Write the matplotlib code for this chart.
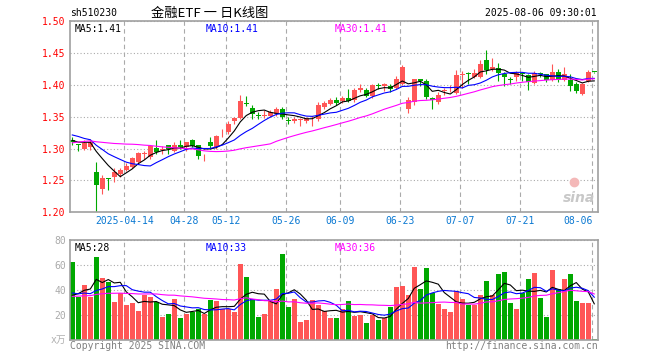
import matplotlib
matplotlib.use("Agg")
import matplotlib.pyplot as plt
import numpy as np
import pandas as pd

RED = "#ff5656"
GREEN = "#00a800"
GRID = "#aaaaaa"
MONO = ["DejaVu Sans Mono", "Noto Sans CJK SC"]

# daily k-line, 2025-03-31 .. 2025-08-06
opens = [1.314, 1.307, 1.300, 1.303, 1.263, 1.237, 1.254, 1.256, 1.260, 1.267,
         1.271, 1.279, 1.292, 1.287, 1.301, 1.298, 1.306, 1.297, 1.306, 1.302,
         1.313, 1.305, 1.291, 1.310, 1.302, 1.327, 1.326, 1.343, 1.348, 1.371,
         1.364, 1.352, 1.352, 1.352, 1.354, 1.362, 1.345, 1.343, 1.345, 1.344,
         1.349, 1.347, 1.365, 1.370, 1.377, 1.375, 1.380, 1.376, 1.392, 1.392,
         1.383, 1.400, 1.399, 1.399, 1.396, 1.402, 1.362, 1.373, 1.409, 1.407,
         1.380, 1.373, 1.391, 1.393, 1.388, 1.415, 1.419, 1.413, 1.412, 1.440,
         1.425, 1.427, 1.417, 1.409, 1.413, 1.418, 1.415, 1.403, 1.418, 1.417,
         1.408, 1.421, 1.408, 1.408, 1.402, 1.386, 1.407, 1.421]
highs = [1.318, 1.308, 1.313, 1.315, 1.279, 1.258, 1.254, 1.269, 1.269, 1.277,
         1.287, 1.295, 1.297, 1.305, 1.313, 1.304, 1.306, 1.310, 1.313, 1.311,
         1.315, 1.306, 1.292, 1.319, 1.321, 1.331, 1.344, 1.349, 1.385, 1.382,
         1.368, 1.357, 1.360, 1.361, 1.365, 1.366, 1.349, 1.349, 1.348, 1.350,
         1.352, 1.374, 1.375, 1.379, 1.381, 1.382, 1.394, 1.396, 1.401, 1.396,
         1.401, 1.403, 1.403, 1.402, 1.414, 1.431, 1.381, 1.410, 1.410, 1.410,
         1.381, 1.389, 1.395, 1.400, 1.424, 1.422, 1.421, 1.425, 1.439, 1.455,
         1.443, 1.435, 1.420, 1.412, 1.422, 1.421, 1.417, 1.422, 1.421, 1.418,
         1.433, 1.425, 1.428, 1.417, 1.404, 1.403, 1.423, 1.421]
lows = [1.305, 1.297, 1.298, 1.298, 1.201, 1.229, 1.235, 1.248, 1.256, 1.265,
        1.269, 1.276, 1.284, 1.284, 1.292, 1.292, 1.292, 1.295, 1.300, 1.296,
        1.302, 1.284, 1.280, 1.300, 1.300, 1.319, 1.323, 1.339, 1.346, 1.367,
        1.347, 1.347, 1.348, 1.349, 1.351, 1.346, 1.339, 1.341, 1.336, 1.340,
        1.336, 1.344, 1.362, 1.368, 1.368, 1.371, 1.373, 1.374, 1.389, 1.381,
        1.379, 1.394, 1.391, 1.389, 1.393, 1.400, 1.356, 1.368, 1.399, 1.378,
        1.362, 1.370, 1.384, 1.389, 1.386, 1.396, 1.402, 1.411, 1.411, 1.417,
        1.422, 1.407, 1.399, 1.402, 1.407, 1.407, 1.392, 1.402, 1.412, 1.404,
        1.407, 1.404, 1.407, 1.390, 1.387, 1.385, 1.404, 1.419]
closes = [1.310, 1.306, 1.309, 1.310, 1.243, 1.254, 1.252, 1.264, 1.267, 1.273,
          1.285, 1.293, 1.293, 1.304, 1.295, 1.300, 1.300, 1.306, 1.303, 1.310,
          1.304, 1.288, 1.292, 1.304, 1.320, 1.328, 1.339, 1.348, 1.375, 1.370,
          1.354, 1.351, 1.353, 1.357, 1.362, 1.349, 1.344, 1.347, 1.346, 1.348,
          1.350, 1.368, 1.371, 1.376, 1.372, 1.380, 1.375, 1.392, 1.396, 1.383,
          1.400, 1.399, 1.401, 1.394, 1.409, 1.428, 1.377, 1.409, 1.406, 1.381,
          1.377, 1.385, 1.392, 1.394, 1.415, 1.417, 1.418, 1.419, 1.433, 1.424,
          1.429, 1.419, 1.412, 1.408, 1.419, 1.417, 1.404, 1.419, 1.417, 1.408,
          1.421, 1.408, 1.417, 1.398, 1.391, 1.402, 1.421, 1.420]
# volume, 万手
volumes = [62.7, 35, 44.3, 35, 66.7, 50, 47, 30.7, 37.6, 28.5,
           30, 23.5, 36, 35, 30.7, 19, 21, 33, 17.9, 21,
           22.4, 25, 21, 32.3, 31.5, 24.8, 24.8, 22.4, 61, 51,
           33, 18.9, 20.8, 31.8, 41.2, 69.2, 26.8, 33.2, 14.8, 16.4,
           32.4, 28.3, 23.5, 17.8, 17.9, 25, 31.5, 19.7, 20.3, 13.9,
           20.5, 16.5, 17.9, 26.7, 42.7, 43.5, 36.5, 58.7, 41, 57.9,
           37.9, 29, 25, 22.7, 39.2, 33, 28.5, 28.5, 36.5, 47.7,
           36, 53, 54.7, 29.9, 25, 37.9, 49, 53.9, 33.9, 18.7,
           56.3, 41, 49, 53, 31.7, 29.9, 29.9, 1.3]

# sessions before the visible window, only feed the moving averages
pre_close = [1.27, 1.28, 1.28, 1.29, 1.28, 1.28, 1.29, 1.28, 1.29, 1.29,
             1.31, 1.32, 1.32, 1.33, 1.33, 1.32, 1.33, 1.32, 1.33, 1.32,
             1.33, 1.34, 1.33, 1.33, 1.32, 1.32, 1.31, 1.31, 1.315]
pre_vol = [30, 35, 32, 38, 33, 36, 31, 34, 35, 34,
           33, 36, 34, 32, 35, 33, 34, 35, 32, 34,
           42, 38, 40, 41, 38, 28, 31, 30, 28]

tick_pos = [9, 19, 26, 36, 45, 55, 65, 75, 87]
tick_labels = ["2025-04-14", "04-28", "05-12", "05-26", "06-09",
               "06-23", "07-07", "07-21", "08-06"]
price_ticks = [1.20, 1.25, 1.30, 1.35, 1.40, 1.45, 1.50]
vol_ticks = [20, 40, 60, 80]

n = len(closes)
x = np.arange(n)
o = np.array(opens)
c = np.array(closes)
colors = np.where(c > o, RED, GREEN)

cs = pd.Series(pre_close + closes)
vs = pd.Series(pre_vol + volumes)
ma_p = {k: cs.rolling(k).mean().to_numpy()[-n:] for k in (5, 10, 30)}
ma_v = {k: vs.rolling(k).mean().to_numpy()[-n:] for k in (5, 10, 30)}
ma_colors = {5: "black", 10: "#0000ff", 30: "#ff00ff"}

fig = plt.figure(figsize=(6.6, 3.6), dpi=100)
ax = fig.add_axes([70 / 660, 1 - 212.3 / 360, 528 / 660, 191 / 360])
axv = fig.add_axes([70 / 660, 1 - 340.3 / 360, 528 / 660, 100 / 360])

grid_x = np.array(tick_pos) - 0.33
for a in (ax, axv):
    a.set_xlim(-0.38, 87.62)
    for s in a.spines.values():
        s.set_color("#a0a0a0")
        s.set_linewidth(1.2)
    a.set_xticks(grid_x)
    a.grid(axis="x", color=GRID, linestyle=(0, (4, 3)), linewidth=0.8)
    a.grid(axis="y", color=GRID, linestyle=(0, (1, 2)), linewidth=0.8)
    a.set_axisbelow(True)
    a.tick_params(length=0)

# price panel
ax.vlines(x, lows, highs, colors=colors, linewidth=0.8)
body = np.maximum(np.abs(c - o), 0.0012)
ax.bar(x, body, bottom=np.minimum(o, c), width=0.8, color=colors, linewidth=0)
for k in (5, 10, 30):
    ax.plot(x, ma_p[k], color=ma_colors[k], linewidth=0.8)
ax.set_ylim(1.20, 1.50)
ax.set_yticks(price_ticks)
ax.set_yticklabels([f"{v:.2f}" for v in price_ticks], family=MONO,
                   fontsize=7, color="#ff0000")
ax.set_xticklabels(tick_labels, family=MONO, fontsize=7, color="#0a78d2")
ax.tick_params(axis="y", pad=3)
ax.tick_params(axis="x", pad=3)
ax.get_xticklabels()[-1].set_horizontalalignment("right")

ax.text(0.009, 0.985, "MA5:1.41", transform=ax.transAxes, family=MONO,
        fontsize=7, color="black", va="top")
ax.text(0.257, 0.985, "MA10:1.41", transform=ax.transAxes, family=MONO,
        fontsize=7, color="#0000ff", va="top")
ax.text(0.501, 0.985, "MA30:1.41", transform=ax.transAxes, family=MONO,
        fontsize=7, color="#ff00ff", va="top")
ax.text(0.995, 0.04, "sina", transform=ax.transAxes, fontsize=10,
        fontweight="bold", fontstyle="italic", color="#c8c8c8",
        ha="right", va="bottom")
ax.plot([0.955], [0.16], marker="o", markersize=6, color="#f4b8b8",
        transform=ax.transAxes, clip_on=False)

# volume panel
axv.bar(x, volumes, width=0.8, color=colors, linewidth=0)
for k in (5, 10, 30):
    axv.plot(x, ma_v[k], color=ma_colors[k], linewidth=0.8)
axv.set_ylim(0, 80)
axv.set_yticks(vol_ticks)
axv.set_yticklabels([str(v) for v in vol_ticks], family=MONO,
                    fontsize=7, color="#aaaaaa")
axv.tick_params(axis="y", pad=3)
axv.set_xticklabels([])
axv.text(-0.008, 0.0, "x万", transform=axv.transAxes, family=MONO,
         fontsize=7, color="#b0b0b0", ha="right", va="center")

axv.text(0.009, 0.975, "MA5:28", transform=axv.transAxes, family=MONO,
         fontsize=7, color="black", va="top")
axv.text(0.256, 0.975, "MA10:33", transform=axv.transAxes, family=MONO,
         fontsize=7, color="#0000ff", va="top")
axv.text(0.502, 0.975, "MA30:36", transform=axv.transAxes, family=MONO,
         fontsize=7, color="#ff00ff", va="top")

# header and footer
fig.text(70 / 660, 1 - 13 / 360, "sh510230", family=MONO, fontsize=7,
         color="black", va="center")
fig.text(210 / 660, 1 - 13 / 360, "金融ETF 一 日K线图",
         family=["Noto Sans CJK SC", "DejaVu Sans"], fontsize=9.5,
         color="black", ha="center", va="center")
fig.text(597 / 660, 1 - 13 / 360, "2025-08-06 09:30:01", family=MONO,
         fontsize=7, color="black", ha="right", va="center")
fig.text(70 / 660, 1 - 346 / 360, "Copyright 2025 SINA.COM", family=MONO,
         fontsize=7, color="#808080", va="center")
fig.text(598 / 660, 1 - 346 / 360, "http://finance.sina.com.cn", family=MONO,
         fontsize=7, color="#808080", ha="right", va="center")

fig.savefig("out.png", dpi=100)
